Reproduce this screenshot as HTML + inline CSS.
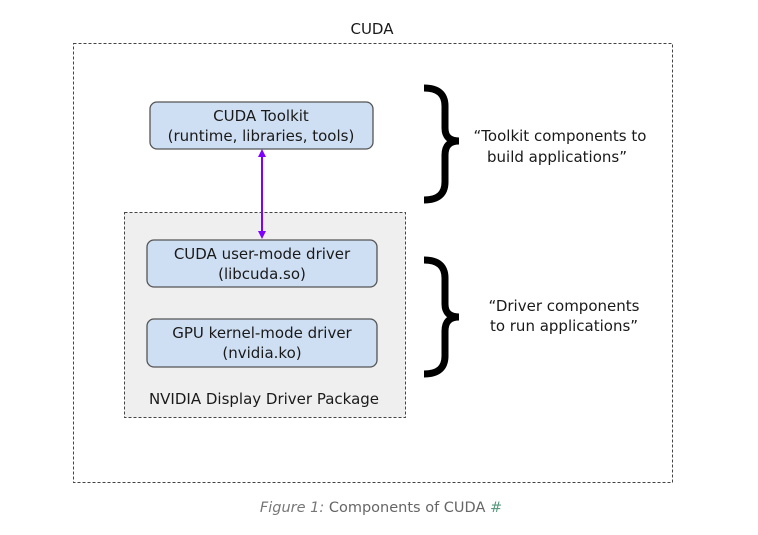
<!DOCTYPE html>
<html><head><meta charset="utf-8"><style>
html,body{margin:0;padding:0;background:#fff;}
svg{display:block;}
text{font-family:"DejaVu Sans","Liberation Sans",sans-serif;fill:#1a1a1a;}
</style></head><body>
<svg width="758" height="535" viewBox="0 0 758 535" xmlns="http://www.w3.org/2000/svg">
<defs>
<marker id="ah" markerWidth="8" markerHeight="8" refX="4" refY="4" orient="auto-start-reverse" markerUnits="userSpaceOnUse">
<path d="M0,0 L8,4 L0,8 z" fill="#7f00ff"/>
</marker>
</defs>
<text x="372" y="34" font-size="15" text-anchor="middle">CUDA</text>
<rect x="73.5" y="43.5" width="599" height="439" fill="none" stroke="#444" stroke-width="1" stroke-dasharray="3,2"/>
<rect x="124.5" y="212.5" width="281" height="205" fill="#efefef" stroke="#444" stroke-width="1" stroke-dasharray="3,2"/>
<rect x="150" y="102" width="223" height="47" rx="7" fill="#cfdff3" stroke="#555" stroke-width="1.3"/>
<text x="261" y="121" font-size="15" text-anchor="middle">CUDA Toolkit</text>
<text x="261" y="141" font-size="15" text-anchor="middle">(runtime, libraries, tools)</text>
<line x1="262" y1="153" x2="262" y2="235" stroke="#7f00ff" stroke-width="2" marker-start="url(#ah)" marker-end="url(#ah)"/>
<rect x="147" y="240" width="230" height="47" rx="7" fill="#cfdff3" stroke="#555" stroke-width="1.3"/>
<text x="262" y="259" font-size="15" text-anchor="middle">CUDA user-mode driver</text>
<text x="262" y="279" font-size="15" text-anchor="middle">(libcuda.so)</text>
<rect x="147" y="319" width="230" height="48" rx="7" fill="#cfdff3" stroke="#555" stroke-width="1.3"/>
<text x="262" y="338" font-size="15" text-anchor="middle">GPU kernel-mode driver</text>
<text x="262" y="358" font-size="15" text-anchor="middle">(nvidia.ko)</text>
<text x="264" y="404" font-size="15" text-anchor="middle">NVIDIA Display Driver Package</text>
<path d="M424,88 Q445,88 445,106 L445,128 Q445,141 459,141 Q445,141 445,155 L445,182 Q445,200 424,200" fill="none" stroke="#000" stroke-width="7"/>
<path d="M424,260 Q445,260 445,278 L445,304 Q445,317 459,317 Q445,317 445,331 L445,356 Q445,374 424,374" fill="none" stroke="#000" stroke-width="7"/>
<text x="560" y="141" font-size="15" text-anchor="middle">“Toolkit components to</text>
<text x="557" y="162" font-size="15" text-anchor="middle">build applications”</text>
<text x="564" y="311" font-size="15" text-anchor="middle">“Driver components</text>
<text x="564" y="331" font-size="15" text-anchor="middle">to run applications”</text>
<text x="381" y="512" font-size="14.5" text-anchor="middle" style="fill:#666"><tspan font-style="italic" style="fill:#777">Figure 1:</tspan> Components of CUDA <tspan style="fill:#5a9a80">#</tspan></text>
</svg>
</body></html>
